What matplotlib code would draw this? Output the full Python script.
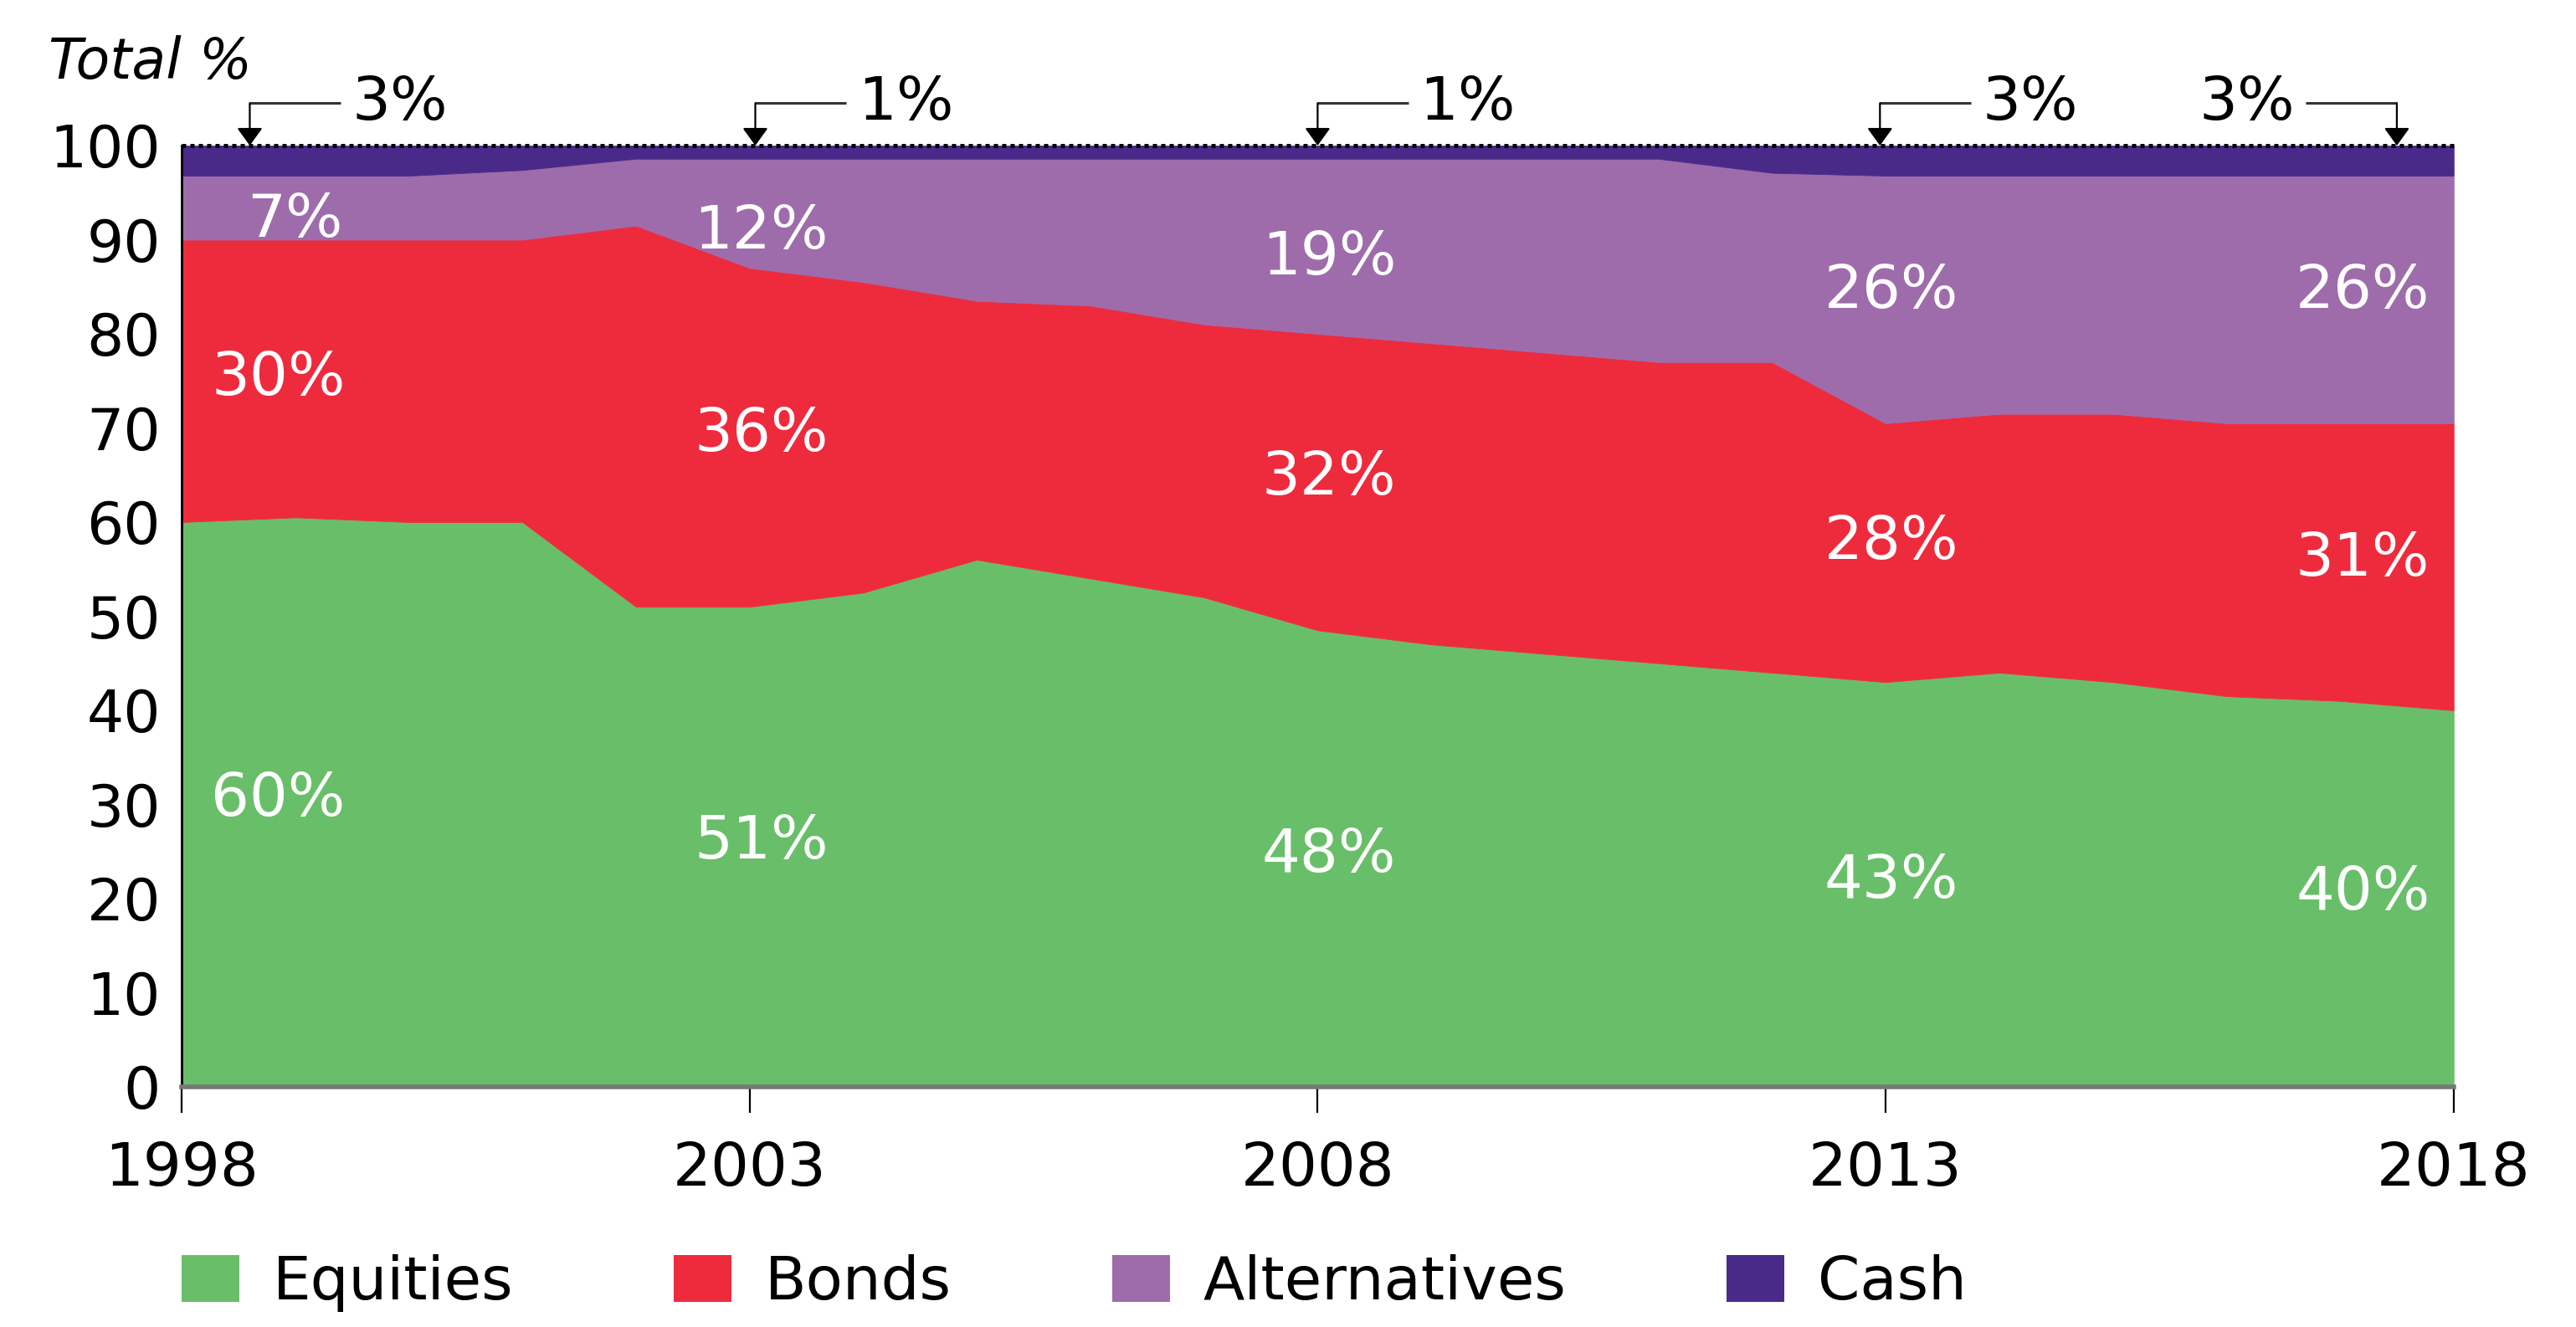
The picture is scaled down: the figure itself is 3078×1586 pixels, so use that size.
import matplotlib
matplotlib.use("Agg")
import matplotlib.pyplot as plt
from matplotlib.patches import Patch

plt.rcParams['font.family'] = ['DejaVu Sans']

# data
years = list(range(1998, 2019))
equities = [60, 60.5, 60, 60, 51, 51, 52.5, 56, 54, 52, 48.5, 47, 46, 45, 44, 43, 44, 43, 41.5, 41, 40]
bonds = [30, 29.5, 30, 30, 40.5, 36, 33, 27.5, 29, 29, 31.5, 32, 32, 32, 33, 27.5, 27.5, 28.5, 29, 29.5, 30.5]
alternatives = [6.8, 6.8, 6.8, 7.4, 7.1, 11.6, 13.1, 15.1, 15.6, 17.6, 18.6, 19.6, 20.6, 21.6, 20.1, 26.3, 25.3, 25.3, 26.3, 26.3, 26.3]
cash = [3.2, 3.2, 3.2, 2.6, 1.4, 1.4, 1.4, 1.4, 1.4, 1.4, 1.4, 1.4, 1.4, 1.4, 2.9, 3.2, 3.2, 3.2, 3.2, 3.2, 3.2]

series_names = ['Equities', 'Bonds', 'Alternatives', 'Cash']
colors = ['#69BF69', '#EE2B3D', '#9E6CAB', '#4A2A89']

# labels written inside the areas
label_years = [1998, 2003, 2008, 2013, 2018]
eq_labels = [60, 51, 48, 43, 40]
bond_labels = [30, 36, 32, 28, 31]
alt_labels = [7, 12, 19, 26, 26]
cash_labels = [3, 1, 1, 3, 3]

fig = plt.figure(figsize=(15.39, 7.93), dpi=200)
ax = fig.add_axes([0.0705, 0.181, 0.882, 0.7093])

ax.stackplot(years, equities, bonds, alternatives, cash, colors=colors,
             edgecolor='face', linewidth=0.3)

ax.set_xlim(1998, 2018)
ax.set_ylim(0, 100)
ax.set_yticks(range(0, 101, 10))
ax.set_xticks([1998, 2003, 2008, 2013, 2018])
ax.tick_params(axis='y', length=0, pad=9, labelsize=25)
ax.tick_params(axis='x', length=11, width=0.8, pad=12, labelsize=26, direction='out')

for s in ['top', 'right']:
    ax.spines[s].set_visible(False)
ax.spines['left'].set_linewidth(1.0)
ax.spines['bottom'].set_color('#777777')
ax.spines['bottom'].set_linewidth(2.0)

# dotted rule along 100
ax.axhline(100, color='black', linestyle=(0, (1, 1)), lw=1.8, clip_on=False, zorder=5)

# in-area labels
text_x = [1998.85, 2003.1, 2008.1, 2013.05, 2017.2]
alt_x = [1999.0, 2003.1, 2008.1, 2013.05, 2017.2]
eq_y = [30.5, 26, 24.6, 21.8, 20.6]
bond_y = [75.2, 69.3, 64.7, 57.8, 56]
alt_y = [92.0, 90.8, 88, 84.5, 84.5]
for i in range(len(label_years)):
    ax.text(text_x[i], eq_y[i], f'{eq_labels[i]}%', color='white', fontsize=26, ha='center', va='center')
    ax.text(text_x[i], bond_y[i], f'{bond_labels[i]}%', color='white', fontsize=26, ha='center', va='center')
    ax.text(alt_x[i], alt_y[i], f'{alt_labels[i]}%', color='white', fontsize=26, ha='center', va='center')

# cash call-outs above the chart
arrow_x = [1998.6, 2003.05, 2008.0, 2012.95, 2017.5]
arrow_side = [1, 1, 1, 1, -1]
line_y = 104.5
for x, side, val in zip(arrow_x, arrow_side, cash_labels):
    x_end = x + side * 0.8
    ax.plot([x, x_end], [line_y, line_y], color='#333333', lw=1.1, clip_on=False,
            solid_capstyle='butt')
    ax.annotate('', xy=(x, 100), xytext=(x, line_y), annotation_clip=False,
                arrowprops=dict(arrowstyle='-|>,head_length=0.65,head_width=0.47',
                                color='black', lw=0.8, mutation_scale=10,
                                shrinkA=0, shrinkB=0))
    ax.text(x_end + side * 0.1, line_y, f'{val}%', fontsize=26, color='black',
            ha='left' if side > 0 else 'right', va='center', clip_on=False)

fig.text(0.019, 0.953, 'Total %', fontsize=24, style='italic', ha='left', va='center')

handles = [Patch(facecolor=c, edgecolor='none') for c in colors]
fig.legend(handles, series_names, loc='center left', bbox_to_anchor=(0.0705, 0.033),
           ncol=4, frameon=False, fontsize=26, handlelength=0.96, handleheight=0.82,
           handletextpad=0.55, columnspacing=2.65, borderpad=0, borderaxespad=0)

fig.savefig('out.png', dpi=200)
